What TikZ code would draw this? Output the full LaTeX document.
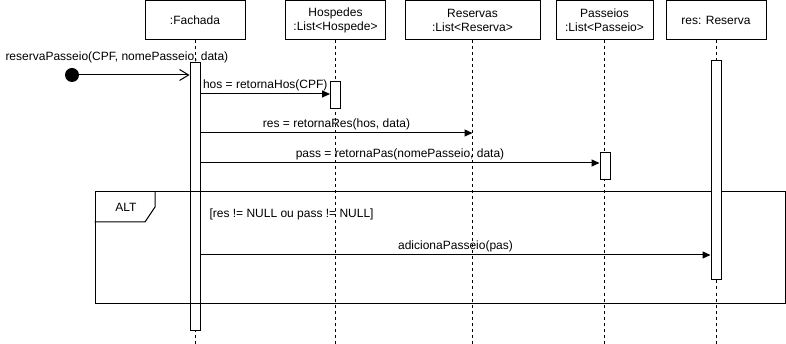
\documentclass[tikz,border=0pt]{standalone}
\usepackage{fontspec}
\setmainfont{Liberation Sans}
\usetikzlibrary{arrows.meta}
\begin{document}
\begin{tikzpicture}[x=1pt,y=-1pt,line width=1pt,
  font=\fontsize{12}{14}\selectfont,
  header/.style={draw,fill=white,minimum height=39.5pt,inner sep=0pt,align=center},
  lifeline/.style={dash pattern=on 3pt off 3pt},
  actbox/.style={draw,fill=white,minimum width=10pt,inner sep=0pt},
  msg/.style={-{Triangle[length=8pt,width=7pt]}},
  call/.style={-{Straight Barb[length=9pt,width=11pt]}},
  lbl/.style={inner sep=0pt}]
\useasboundingbox (0,0) rectangle (786,344);

% object headers
\node[header,minimum width=100pt] (fach) at (195,20.25) {:Fachada};
\node[header,minimum width=100pt] (hosp) at (335.5,20.25) {Hospedes\\:List<Hospede>};
\node[header,minimum width=135pt] (resv) at (472.5,20.25) {Reservas\\:List<Reserva>};
\node[header,minimum width=97pt] (pass) at (604.5,20.25) {Passeios\\:List<Passeio>};
\node[header,minimum width=100pt] (resr) at (716,20.25) {res: Reserva};

% lifelines
\foreach \n in {fach,hosp,resv,pass,resr}
  \draw[lifeline] (\n.south) -- (\n.south |- 0,344);

% activation bars
\node[actbox,minimum height=267pt] (afach) at (195,196.5) {};
\node[actbox,minimum height=27pt] (ahosp) at (335.5,95.5) {};
\node[actbox,minimum height=27pt] (apass) at (605,166.5) {};

% ALT combined fragment
\node[draw,minimum width=690pt,minimum height=111pt,inner sep=0pt] (frame) at (440,247.5) {};
\draw (frame.west |- 0,222) -- (145,222) coordinate (tabb) -- (155,207) -- (155,192);
\node[lbl] (altlbl) at (126,207) {ALT};
\node[lbl,anchor=west] (guard) at (209,214) {[res != NULL ou pass != NULL]};

\node[actbox,minimum height=219pt] (ares) at (716,170.5) {};

% found message
\fill (72,75) circle (7pt);
\coordinate (start) at (72,75);
\draw[call] (start) -- (afach.west |- 0,75);
\node[lbl,anchor=west] (m0) at (5,57) {reservaPasseio(CPF, nomePasseio, data)};

% synchronous messages
\draw[msg] (afach.east |- 0,94) -- node[lbl,above=3pt] {hos = retornaHos(CPF)} (ahosp.west |- 0,94);
\draw[msg] (afach.east |- 0,133) -- node[lbl,above=3pt] {res = retornaRes(hos, data)} (resv.south |- 0,133);
\draw[msg] (afach.east |- 0,163) -- node[lbl,above=3pt] {pass = retornaPas(nomePasseio, data)} (apass.west |- 0,163);
\draw[msg] (afach.east |- 0,255) -- node[lbl,above=3pt] {adicionaPasseio(pas)} (ares.west |- 0,255);
\end{tikzpicture}
\end{document}
